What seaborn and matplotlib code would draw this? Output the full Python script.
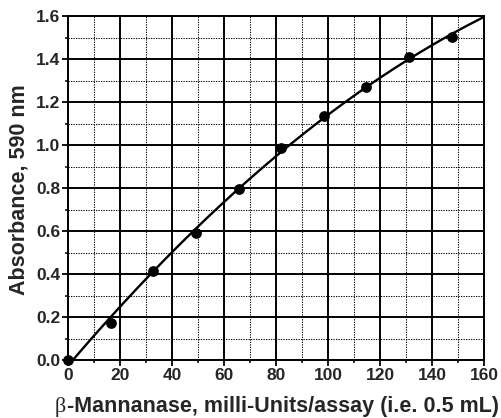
import numpy as np
import pandas as pd
import seaborn as sns
import matplotlib
matplotlib.use("Agg")
import matplotlib.pyplot as plt
from matplotlib.ticker import MultipleLocator

# Data
activity = [0, 16.4, 32.8, 49.2, 65.6, 82.0, 98.4, 114.8, 131.2, 147.6]
absorbance = [0.0, 0.171, 0.415, 0.589, 0.795, 0.985, 1.136, 1.272, 1.408, 1.502]
x_ticks = [0, 20, 40, 60, 80, 100, 120, 140, 160]
y_ticks = [0.0, 0.2, 0.4, 0.6, 0.8, 1.0, 1.2, 1.4, 1.6]
x_label_beta = "β"
x_label_rest = "-Mannanase, milli-Units/assay (i.e. 0.5 mL)"
y_label = "Absorbance, 590 nm"

df = pd.DataFrame({"x": activity, "y": absorbance})

# Quadratic standard curve fitted to the points
coef = np.polyfit(activity, absorbance, 2)
xf = np.linspace(0, 160, 300)
fit = pd.DataFrame({"x": xf, "y": np.polyval(coef, xf)})

sns.set_theme(style="white")
plt.rcParams["font.family"] = ["Liberation Sans", "DejaVu Sans"]

W, H = 501, 418
fig = plt.figure(figsize=(W / 100, H / 100), dpi=100)
L, R, T, B = 68, 484, 16, 360
ax = fig.add_axes([L / W, 1 - B / H, (R - L) / W, (B - T) / H])

ax.set_xlim(0, 160)
ax.set_ylim(0, 1.6)
ax.xaxis.set_minor_locator(MultipleLocator(10))
ax.yaxis.set_minor_locator(MultipleLocator(0.1))

ax.grid(which="major", color="black", linewidth=1.4, linestyle="-")
ax.grid(which="minor", color="black", linewidth=0.75, linestyle=(0, (1.2, 1.2)))
ax.set_axisbelow(True)

sns.lineplot(data=fit, x="x", y="y", ax=ax, color="black", linewidth=1.7)
sns.scatterplot(data=df, x="x", y="y", ax=ax, color="black", s=60,
                edgecolor="black", linewidth=0, zorder=5, clip_on=False)

ax.set_xticks(x_ticks)
ax.set_yticks(y_ticks)
ax.set_xticklabels([f"{v:d}" for v in x_ticks])
ax.set_yticklabels([f"{v:.1f}" for v in y_ticks])

for s in ax.spines.values():
    s.set_color("black")
    s.set_linewidth(1.4)

ax.tick_params(which="major", direction="out", length=4, width=1.3, color="black",
               labelsize=12.5, pad=1.5, bottom=True, left=True)
ax.tick_params(which="minor", direction="out", length=2.5, width=1.1, color="black",
               bottom=True, left=True)
for lbl in ax.get_xticklabels() + ax.get_yticklabels():
    lbl.set_fontweight("bold")

ax.set_xlabel("")
ax.set_ylabel(y_label, fontsize=15.5, fontweight="bold")
ax.yaxis.set_label_coords((30 - L) / (R - L), 0.5 - (190 - (T + B) / 2) / (B - T))

# x label: serif beta followed by bold sans text, sharing one baseline
base_y = 1 - 412 / H
beta = fig.text(0.0, base_y, x_label_beta, fontsize=16, family="Liberation Serif",
                ha="left", va="baseline")
rest = fig.text(0.0, base_y, x_label_rest, fontsize=15.5, fontweight="bold",
                ha="left", va="baseline")
fig.canvas.draw()
r = fig.canvas.get_renderer()
wb = beta.get_window_extent(r).width
wr = rest.get_window_extent(r).width
x0 = (55 + 498) / 2 - (wb + wr) / 2
beta.set_x(x0 / W)
rest.set_x((x0 + wb + 1) / W)

fig.savefig("out.png", dpi=100)
